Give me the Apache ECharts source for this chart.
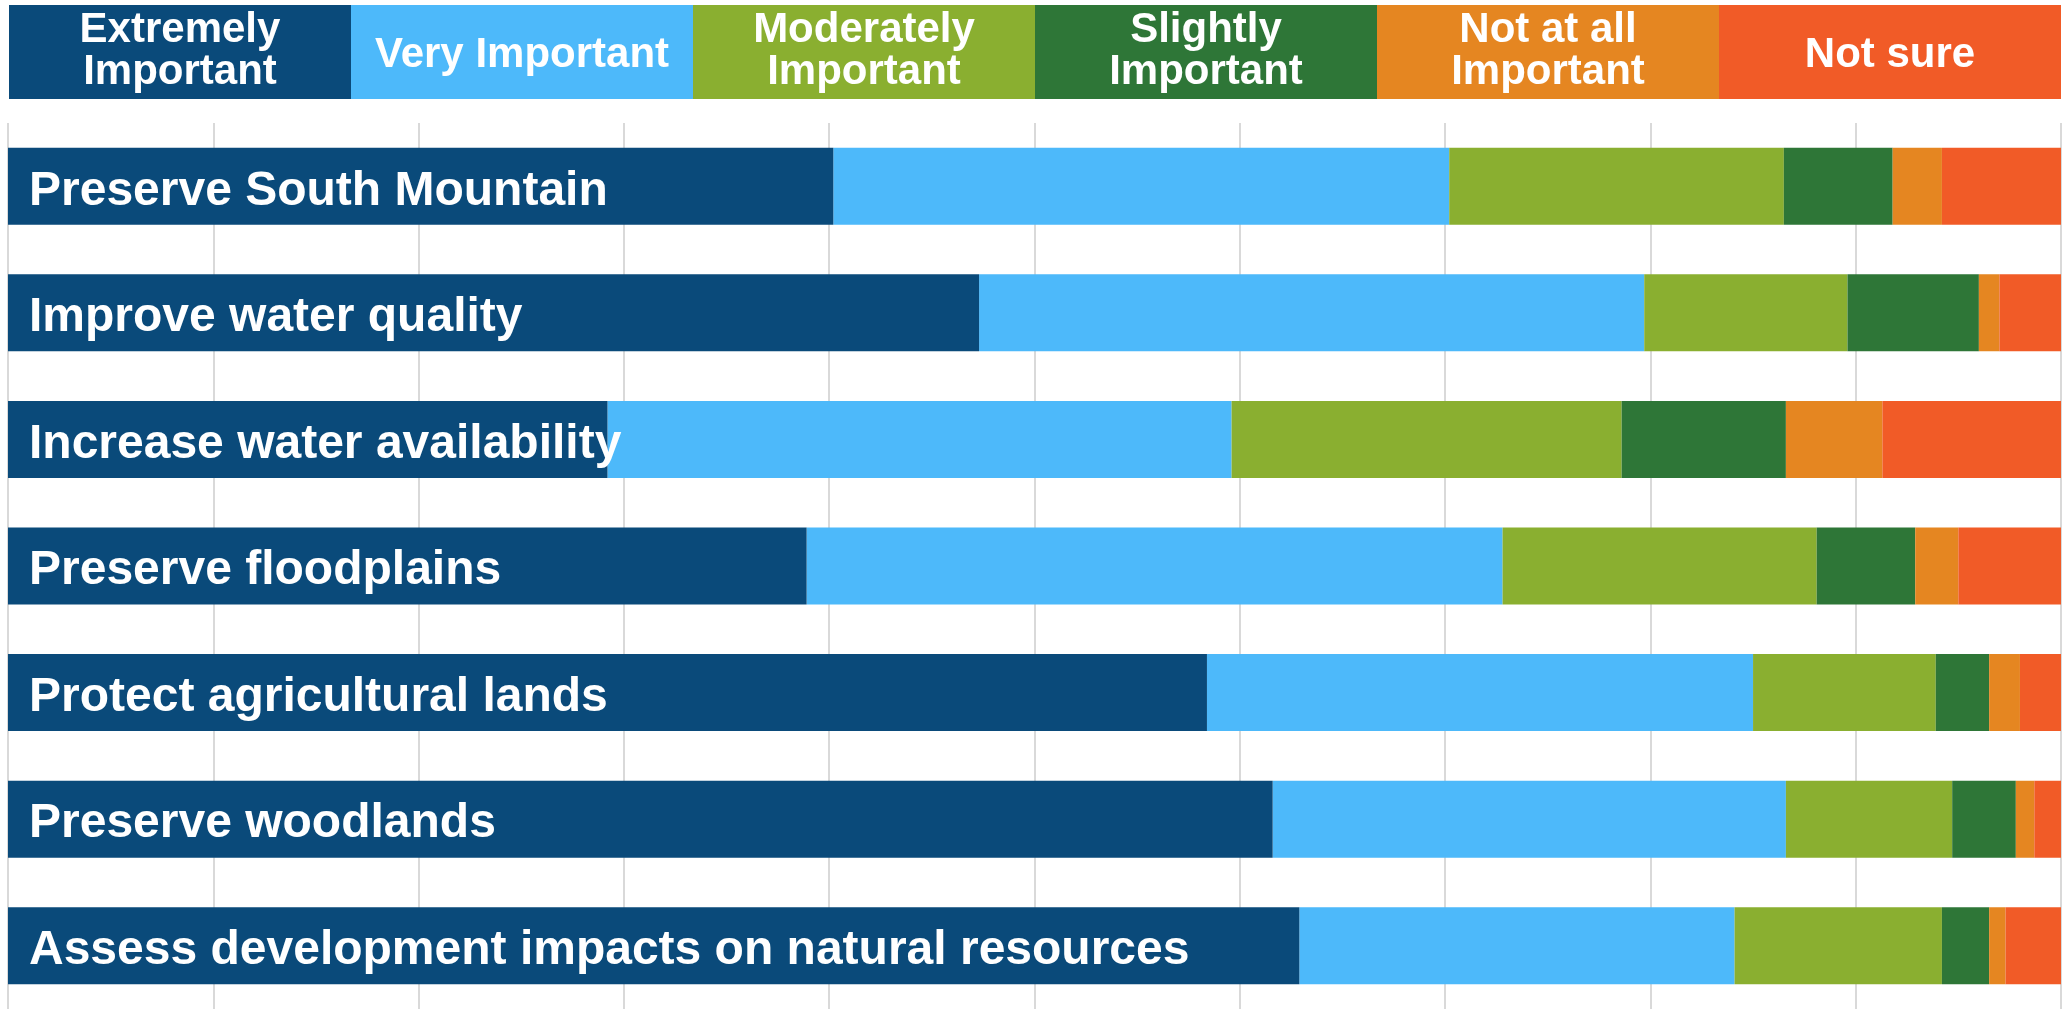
<!DOCTYPE html>
<html>
<head>
<meta charset="utf-8">
<title>Importance of natural resource goals</title>
<script src="https://cdn.jsdelivr.net/npm/echarts@6/dist/echarts.min.js"></script>
<style>
    html, body { margin: 0; padding: 0; background: #fff; }
    #chart { width: 2071px; height: 1009px; }
</style>
</head>
<body>
<div id="chart"></div>
<script>
// survey items, top to bottom
var categories = [
    'Preserve South Mountain',
    'Improve water quality',
    'Increase water availability',
    'Preserve floodplains',
    'Protect agricultural lands',
    'Preserve woodlands',
    'Assess development impacts on natural resources'
];

var seriesNames = ['Extremely Important', 'Very Important', 'Moderately Important',
    'Slightly Important', 'Not at all Important', 'Not sure'];
var legendLabels = ['Extremely\nImportant', 'Very Important', 'Moderately\nImportant',
    'Slightly\nImportant', 'Not at all\nImportant', 'Not sure'];

// percent of responses
var extremely  = [40.2, 47.3, 29.2, 38.9, 58.4, 61.6, 62.9];
var very       = [30.0, 32.4, 30.4, 33.9, 26.6, 25.0, 21.2];
var moderately = [16.3,  9.9, 19.0, 15.3,  8.9,  8.1, 10.1];
var slightly   = [ 5.3,  6.4,  8.0,  4.8,  2.6,  3.1,  2.3];
var notAtAll   = [ 2.4,  1.0,  4.7,  2.1,  1.5,  0.9,  0.8];
var notSure    = [ 5.8,  3.0,  8.7,  5.0,  2.0,  1.3,  2.7];

var colors = ['#0a4a7a', '#4db9fa', '#8aaf30', '#2e7637', '#e58621', '#f15b27'];
var font = '"Liberation Sans", Arial, Helvetica, sans-serif';

var allData = [extremely, very, moderately, slightly, notAtAll, notSure];

var series = allData.map(function (vals, i) {
    var s = {
        name: seriesNames[i],
        type: 'bar',
        stack: 'total',
        barWidth: 77,
        itemStyle: { color: colors[i] },
        data: vals
    };
    if (i === 0) {
        s.z = 3;
        s.label = {
            show: true,
            position: 'insideLeft',
            distance: 21,
            offset: [0, 5],
            formatter: '{b}',
            color: '#fff',
            fontSize: 48,
            fontWeight: 'bold',
            fontFamily: font
        };
    }
    return s;
});

// legend strip drawn as boxes with the label inside
var boxW = 342, boxX0 = 9;
var legendGraphics = legendLabels.map(function (txt, i) {
    return {
        type: 'group',
        children: [
            {
                type: 'rect',
                shape: { x: boxX0 + i * boxW, y: 5, width: boxW, height: 94 },
                style: { fill: colors[i] }
            },
            {
                type: 'text',
                style: {
                    text: txt,
                    x: boxX0 + i * boxW + boxW / 2,
                    y: txt.indexOf('\n') >= 0 ? 51 : 55,
                    align: 'center',
                    verticalAlign: 'middle',
                    fill: '#fff',
                    font: 'bold 42px ' + font,
                    lineHeight: 42
                }
            }
        ]
    };
});

var option = {
    animation: false,
    backgroundColor: '#fff',
    grid: { left: 8, right: 10, top: 123, height: 889 },
    xAxis: {
        type: 'value',
        min: 0,
        max: 100,
        interval: 10,
        axisLine: { show: false },
        axisTick: { show: false },
        axisLabel: { show: false },
        splitLine: { show: true, lineStyle: { color: '#d9d9d9', width: 2 } }
    },
    yAxis: {
        type: 'category',
        inverse: true,
        data: categories,
        axisLine: { show: false },
        axisTick: { show: false },
        axisLabel: { show: false }
    },
    graphic: legendGraphics,
    series: series
};

var chart = echarts.init(document.getElementById('chart'));
chart.setOption(option);
</script>
</body>
</html>
